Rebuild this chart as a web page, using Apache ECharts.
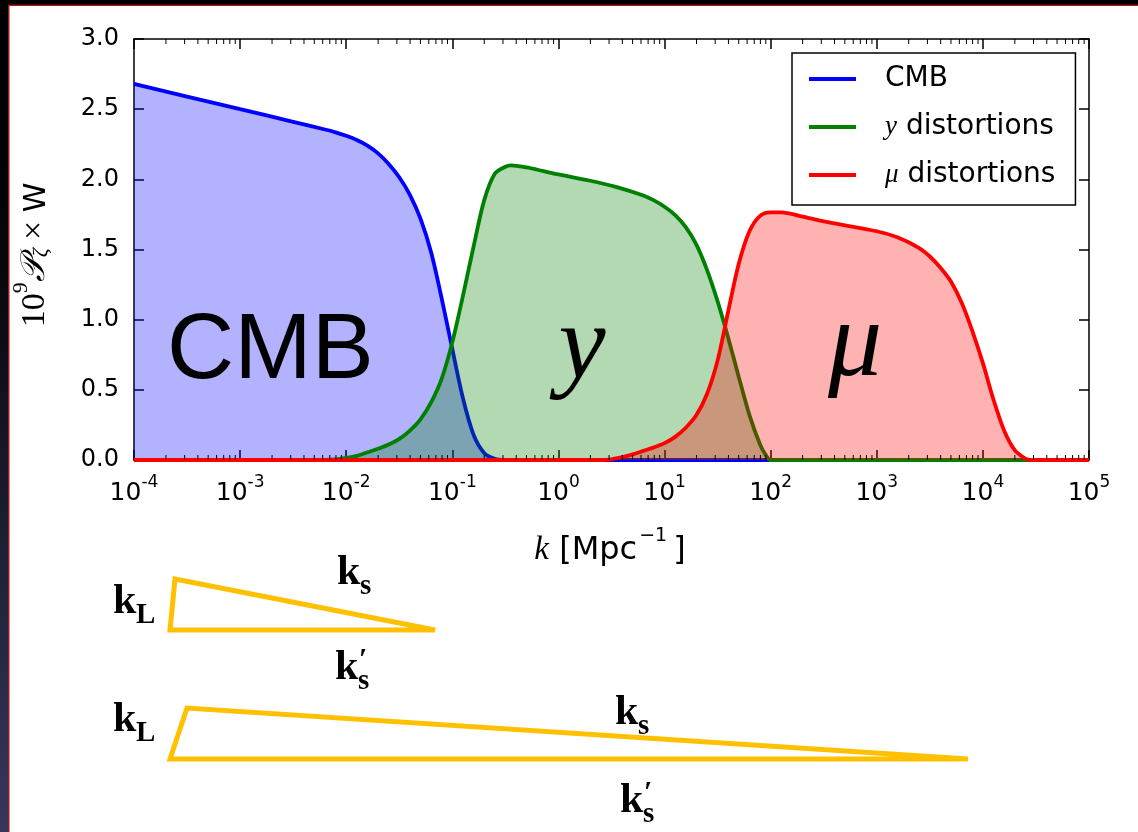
<!DOCTYPE html>
<html><head><meta charset="utf-8">
<script src="https://cdn.jsdelivr.net/npm/echarts@6/dist/echarts.min.js"></script>
<style>html,body{margin:0;padding:0;background:#fff;overflow:hidden}#c{width:1138px;height:832px}</style>
</head><body><div id="c"></div><script>
// ---- data (x stored as log10 k) ----
const seriesNames = ['CMB', 'y distortions', 'μ distortions'];
const cmbLogK = [-4, -3.5, -3, -2.5, -2.2, -2.1, -2.0, -1.9, -1.8, -1.7, -1.6, -1.5, -1.4, -1.3, -1.2, -1.1, -1.0, -0.9, -0.8, -0.7, -0.6, -0.5, 5];
const cmbVal  = [2.68, 2.59, 2.50, 2.41, 2.355, 2.335, 2.31, 2.28, 2.24, 2.185, 2.11, 2.015, 1.89, 1.72, 1.48, 1.15, 0.79, 0.44, 0.18, 0.05, 0.008, 0, 0];
const yLogK = [-4, -2.3, -2.1, -2.0, -1.9, -1.8, -1.7, -1.6, -1.5, -1.4, -1.3, -1.2, -1.1, -1.0, -0.9, -0.8, -0.7, -0.6, -0.5, -0.45, -0.3, -0.15, 0, 0.3, 0.55, 0.8, 0.9, 1.0, 1.1, 1.2, 1.3, 1.4, 1.5, 1.6, 1.7, 1.8, 1.9, 1.95, 2.0, 5];
const yVal  = [0, 0, 0.005, 0.015, 0.03, 0.055, 0.08, 0.11, 0.15, 0.21, 0.29, 0.41, 0.58, 0.84, 1.17, 1.52, 1.85, 2.04, 2.09, 2.10, 2.085, 2.06, 2.035, 1.99, 1.945, 1.885, 1.85, 1.805, 1.745, 1.66, 1.535, 1.355, 1.13, 0.87, 0.59, 0.32, 0.11, 0.04, 0, 0];
const muLogK = [-4, 0.4, 0.5, 0.6, 0.7, 0.8, 0.9, 1.0, 1.1, 1.2, 1.3, 1.4, 1.5, 1.6, 1.7, 1.8, 1.9, 2.0, 2.1, 2.3, 2.5, 3.0, 3.2, 3.4, 3.5, 3.6, 3.7, 3.8, 3.9, 4.0, 4.1, 4.2, 4.3, 4.4, 4.45, 5];
const muVal  = [0, 0, 0.005, 0.02, 0.04, 0.065, 0.09, 0.12, 0.165, 0.23, 0.32, 0.47, 0.71, 1.06, 1.40, 1.63, 1.74, 1.765, 1.765, 1.735, 1.70, 1.63, 1.585, 1.51, 1.45, 1.37, 1.27, 1.12, 0.92, 0.69, 0.43, 0.21, 0.07, 0.01, 0, 0];
const seriesColors = ['#0000ff', '#008000', '#ff0000'];
const xMinExp = -4, xMaxExp = 5;
const yMin = 0, yMax = 3, yStep = 0.5;

const toPairs = (lk, v) => lk.map((e, i) => [Math.pow(10, e), v[i]]);
const seriesData = [toPairs(cmbLogK, cmbVal), toPairs(yLogK, yVal), toPairs(muLogK, muVal)];

// minor tick positions (2..9 x 10^n)
const minorK = [];
for (let n = xMinExp; n < xMaxExp; n++) for (let m = 2; m <= 9; m++) minorK.push([m * Math.pow(10, n), 0]);

const chart = echarts.init(document.getElementById('c'), null, {renderer: 'canvas'});
const AX = {color: '#000', width: 1.5};
const sansFont = 'DejaVu Sans';
const serif = 'Liberation Serif';

const xLabelRich = {
  b: {fontFamily: sansFont, fontSize: 25, color: '#000', lineHeight: 32, verticalAlign: 'bottom'},
  s: {fontFamily: sansFont, fontSize: 17, color: '#000', lineHeight: 32, verticalAlign: 'top'}
};
function xAxisDef(pos, showLabel) {
  return {
    type: 'log', logBase: 10, min: Math.pow(10, xMinExp), max: Math.pow(10, xMaxExp), interval: 1,
    position: pos, gridIndex: 0,
    axisLine: {show: true, onZero: false, lineStyle: AX},
    axisTick: {show: true, inside: true, length: 10, lineStyle: AX},
    splitLine: {show: false}, minorTick: {show: false},
    axisLabel: {show: showLabel, margin: 14, showMinLabel: true, showMaxLabel: true,
      formatter: v => '{b|10}{s|' + Math.round(Math.log10(v)) + '}', rich: xLabelRich}
  };
}
function yAxisDef(pos, showLabel) {
  return {
    type: 'value', min: yMin, max: yMax, interval: yStep, position: pos,
    axisLine: {show: true, onZero: false, lineStyle: AX},
    axisTick: {show: true, inside: true, length: 10, lineStyle: AX},
    splitLine: {show: false},
    axisLabel: {show: showLabel, margin: 15, fontFamily: sansFont, fontSize: 24, color: '#000',
      formatter: v => v.toFixed(1)}
  };
}

function kLabel(x, y, sub, prime) {
  const ch = [
    {type: 'text', x: 0, y: 0, style: {text: 'k', font: 'bold 42px "Liberation Serif"', fill: '#000', textVerticalAlign: 'bottom'}},
    {type: 'text', x: 23, y: 7, style: {text: sub, font: 'bold 29px "Liberation Serif"', fill: '#000', textVerticalAlign: 'bottom'}}
  ];
  if (prime) ch.push({type: 'text', x: 24, y: -14, style: {text: '′', font: 'bold 30px "Liberation Serif"', fill: '#000', textVerticalAlign: 'bottom'}});
  return {type: 'group', x: x, y: y, z: 100, children: ch};
}

const gold = '#ffc000';
const graphics = [
  // frame
  {type: 'rect', z: 200, shape: {x: 0, y: 0, width: 8, height: 832},
    style: {fill: new echarts.graphic.LinearGradient(0, 0, 0, 1, [{offset: 0, color: '#000'}, {offset: 0.3, color: '#05050a'}, {offset: 1, color: '#37375e'}])}},
  {type: 'rect', z: 200, shape: {x: 0, y: 0, width: 1138, height: 5}, style: {fill: '#000'}},
  {type: 'rect', z: 201, shape: {x: 8, y: 5, width: 1.5, height: 827}, style: {fill: '#a01818'}},
  {type: 'rect', z: 201, shape: {x: 8, y: 4.5, width: 1130, height: 1.5}, style: {fill: '#a01818'}},
  // big labels
  {type: 'text', z: 100, x: 167, y: 352, style: {text: 'CMB', font: '93px "Liberation Sans"', fill: '#000', textVerticalAlign: 'middle'}},
  {type: 'text', z: 100, x: 582, y: 349, style: {text: 'y', font: 'italic 106px "Liberation Serif"', fill: '#000', textAlign: 'center', textVerticalAlign: 'middle'}},
  {type: 'text', z: 100, x: 855, y: 347, style: {text: 'μ', font: 'italic 108px "Liberation Serif"', fill: '#000', textAlign: 'center', textVerticalAlign: 'middle'}},
  // axis names
  {type: 'text', z: 100, x: 610, y: 547, style: {
    text: '{i|k}{n| [Mpc}{s|−1}{n|]}', textAlign: 'center', textVerticalAlign: 'middle',
    rich: {i: {fontFamily: serif, fontStyle: 'italic', fontSize: 33, fill: '#000', lineHeight: 40, verticalAlign: 'bottom'},
           n: {fontFamily: sansFont, fontSize: 32, fill: '#000', lineHeight: 40, verticalAlign: 'bottom'},
           s: {fontFamily: sansFont, fontSize: 19, fill: '#000', lineHeight: 40, verticalAlign: 'top', padding: [0, 6, 0, 2]}}}},
  {type: 'text', z: 100, x: 31, y: 255, rotation: Math.PI / 2, style: {
    text: '{n|10}{s|9}{p|𝒫}{b|ζ}{n| × }{w|W}', textAlign: 'center', textVerticalAlign: 'middle',
    rich: {n: {fontFamily: serif, fontSize: 34, fill: '#000', lineHeight: 42, verticalAlign: 'bottom'},
           s: {fontFamily: serif, fontSize: 22, fill: '#000', lineHeight: 42, verticalAlign: 'top'},
           p: {fontFamily: serif, fontStyle: 'italic', fontSize: 34, fill: '#000', lineHeight: 42, verticalAlign: 'bottom'},
           b: {fontFamily: serif, fontStyle: 'italic', fontSize: 22, fill: '#000', lineHeight: 36, verticalAlign: 'bottom'},
           w: {fontFamily: sansFont, fontSize: 30, fill: '#000', lineHeight: 42, verticalAlign: 'bottom'}}}},
  // triangles
  {type: 'polygon', z: 100, shape: {points: [[175, 579], [170, 630], [435, 630]]}, style: {fill: null, stroke: gold, lineWidth: 5, lineJoin: 'miter'}},
  {type: 'polygon', z: 100, shape: {points: [[187, 708], [170, 759], [968, 759]]}, style: {fill: null, stroke: gold, lineWidth: 5, lineJoin: 'miter'}},
  kLabel(113, 623, 'L', false),
  kLabel(337, 594, 's', false),
  kLabel(335, 689, 's', true),
  kLabel(113, 741, 'L', false),
  kLabel(615, 734, 's', false),
  kLabel(620, 822, 's', true)
];

const lineSeries = seriesNames.map((name, i) => ({
  name: name, type: 'line', xAxisIndex: 0, yAxisIndex: 0, data: seriesData[i],
  showSymbol: false, smooth: 0.3, color: seriesColors[i], z: 2 + i,
  lineStyle: {color: seriesColors[i], width: 3.8},
  areaStyle: {color: seriesColors[i], opacity: 0.3}
}));

chart.setOption({
  animation: false,
  backgroundColor: '#fff',
  grid: {left: 134, top: 39, right: 49, bottom: 372, containLabel: false},
  xAxis: [xAxisDef('bottom', true), xAxisDef('top', false)],
  yAxis: [yAxisDef('left', true), yAxisDef('right', false)],
  legend: {
    data: seriesNames, orient: 'vertical', left: 792, top: 53,
    padding: [12, 20, 16, 17], itemGap: 20, itemWidth: 47, itemHeight: 4, icon: 'rect',
    borderColor: '#000', borderWidth: 1.5, backgroundColor: '#fff', selectedMode: false,
    formatter: name => name === 'CMB' ? '{n|CMB}' : (name[0] === 'y' ? '{i|y}{n| distortions}' : '{i|μ}{n| distortions}'),
    textStyle: {padding: [0, 0, 0, 24], lineHeight: 26,
      rich: {n: {fontFamily: sansFont, fontSize: 28, color: '#000', lineHeight: 26},
             i: {fontFamily: serif, fontStyle: 'italic', fontSize: 27, color: '#000', lineHeight: 26}}}
  },
  series: lineSeries.concat([{
    type: 'custom', xAxisIndex: 0, yAxisIndex: 0, silent: true, z: 20, data: minorK,
    encode: {x: 0, y: 1},
    renderItem: (params, api) => {
      const cs = params.coordSys;
      const x = api.coord([api.value(0), 0])[0];
      const yb = cs.y + cs.height, yt = cs.y;
      return {type: 'group', children: [
        {type: 'line', shape: {x1: x, y1: yb, x2: x, y2: yb - 5}, style: {stroke: '#000', lineWidth: 1}},
        {type: 'line', shape: {x1: x, y1: yt, x2: x, y2: yt + 5}, style: {stroke: '#000', lineWidth: 1}}
      ]};
    }
  }]),
  graphic: graphics
});
</script></body></html>
